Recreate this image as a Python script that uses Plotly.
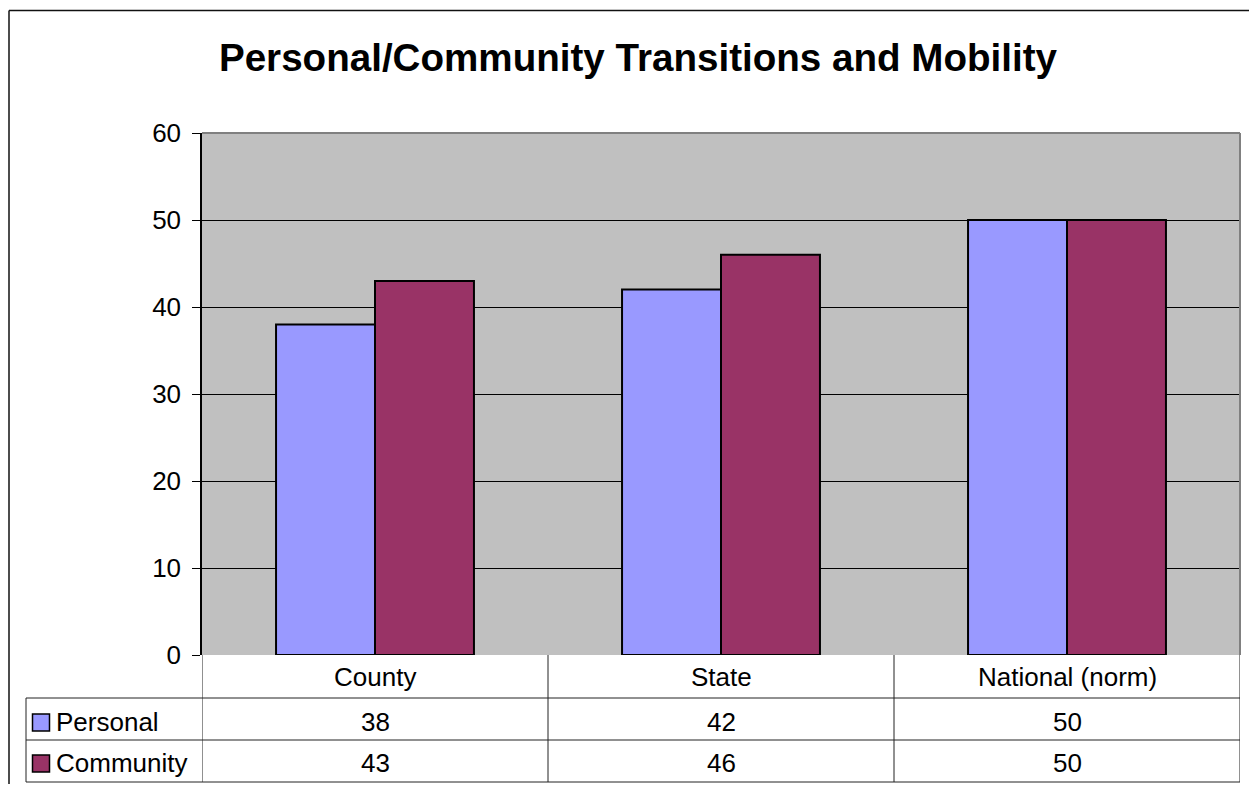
import plotly.graph_objects as go

# data
categories = ["County", "State", "National (norm)"]
series_names = ["Personal", "Community"]
personal = [38, 42, 50]
community = [43, 46, 50]
series_values = [personal, community]
series_colors = ["#9999FF", "#993366"]

FONT = "Liberation Sans, Arial, sans-serif"

# page pixel -> paper fraction (figure fills the window minus the 8px body margin)
OX, OY, FW, FH = 8, 8, 1241, 776


def px_x(p):
    return (p - OX) / FW


def px_y(p):
    return 1 - (p - OY) / FH


plot_l, plot_r, plot_t, plot_b = 202, 1240, 133, 655
row_lines = [698, 740, 782]
text_rows = [722, 763]
header_center = 677
table_left = 26

fig = go.Figure()
for name, vals, color in zip(series_names, series_values, series_colors):
    fig.add_trace(go.Bar(
        x=categories, y=vals, name=name,
        marker=dict(color=color, line=dict(color="black", width=2)),
    ))

shapes = []
# outer chart border: only the left and top edges are in view
shapes.append(dict(type="line", xref="paper", yref="paper",
                   x0=px_x(9), x1=px_x(9), y0=0, y1=px_y(10.5),
                   line=dict(color="#111111", width=1.5), layer="below"))
shapes.append(dict(type="line", xref="paper", yref="paper",
                   x0=px_x(9), x1=1, y0=px_y(10.5), y1=px_y(10.5),
                   line=dict(color="#111111", width=1.5), layer="below"))
# table horizontal lines
for py in row_lines:
    shapes.append(dict(type="line", xref="paper", yref="paper",
                       x0=px_x(table_left), x1=px_x(plot_r), y0=px_y(py), y1=px_y(py),
                       line=dict(color="#222222", width=1)))
# table verticals
shapes.append(dict(type="line", xref="paper", yref="paper",
                   x0=px_x(table_left), x1=px_x(table_left), y0=px_y(row_lines[0]), y1=px_y(row_lines[-1]),
                   line=dict(color="#222222", width=1)))
for xv in [-0.5, 0.5, 1.5, 2.5]:
    shapes.append(dict(type="line", xref="x", yref="paper",
                       x0=xv, x1=xv, y0=px_y(plot_b), y1=px_y(row_lines[-1]),
                       line=dict(color="#222222", width=1)))

annotations = []
for cat in categories:
    annotations.append(dict(x=cat, xref="x", y=px_y(header_center), yref="paper",
                            yanchor="middle", text=cat, showarrow=False,
                            font=dict(size=26, color="black", family=FONT)))
for r, (name, vals, color) in enumerate(zip(series_names, series_values, series_colors)):
    cy = text_rows[r]
    for cat, v in zip(categories, vals):
        annotations.append(dict(x=cat, xref="x", y=px_y(cy), yref="paper",
                                yanchor="middle", text=str(v), showarrow=False,
                                font=dict(size=26, color="black", family=FONT)))
    annotations.append(dict(x=px_x(54), xref="paper", y=px_y(cy), yref="paper",
                            yanchor="middle", text=name, showarrow=False, xanchor="left",
                            font=dict(size=26, color="black", family=FONT)))
    shapes.append(dict(type="rect", xref="paper", yref="paper",
                       x0=px_x(32.5), x1=px_x(49.5), y0=px_y(cy + 9), y1=px_y(cy - 8),
                       fillcolor=color, line=dict(color="black", width=1.5)))

# gray top/right border of plot area
shapes.append(dict(type="line", xref="paper", yref="paper",
                   x0=px_x(plot_l), x1=px_x(plot_r), y0=px_y(plot_t), y1=px_y(plot_t),
                   line=dict(color="#808080", width=2)))
shapes.append(dict(type="line", xref="paper", yref="paper",
                   x0=px_x(plot_r), x1=px_x(plot_r), y0=px_y(plot_t), y1=px_y(plot_b),
                   line=dict(color="#808080", width=2)))

fig.update_layout(
    autosize=True,
    margin=dict(l=0, r=0, t=0, b=0, autoexpand=False),
    paper_bgcolor="white",
    plot_bgcolor="#C0C0C0",
    font=dict(family=FONT, color="black"),
    title=dict(text="<b>Personal/Community Transitions and Mobility</b>",
               x=px_x(638), xanchor="center", xref="paper",
               y=px_y(57), yanchor="middle", yref="paper",
               font=dict(size=38.6, color="black", family=FONT)),
    barmode="group",
    bargap=0.428,
    bargroupgap=0,
    showlegend=False,
    xaxis=dict(domain=[px_x(plot_l), px_x(plot_r)], range=[-0.5, 2.5],
               showticklabels=False, ticks="", showgrid=False, zeroline=False,
               showline=False, automargin=False),
    yaxis=dict(domain=[px_y(plot_b), px_y(plot_t)], range=[0, 60], dtick=10,
               ticks="outside", ticklen=8, tickcolor="black", ticklabelstandoff=6,
               showline=True, linecolor="black", linewidth=1.5,
               gridcolor="black", gridwidth=1, zeroline=False, automargin=False,
               tickfont=dict(size=26, color="black", family=FONT)),
    shapes=shapes,
    annotations=annotations,
)

fig.write_html("out.html")
